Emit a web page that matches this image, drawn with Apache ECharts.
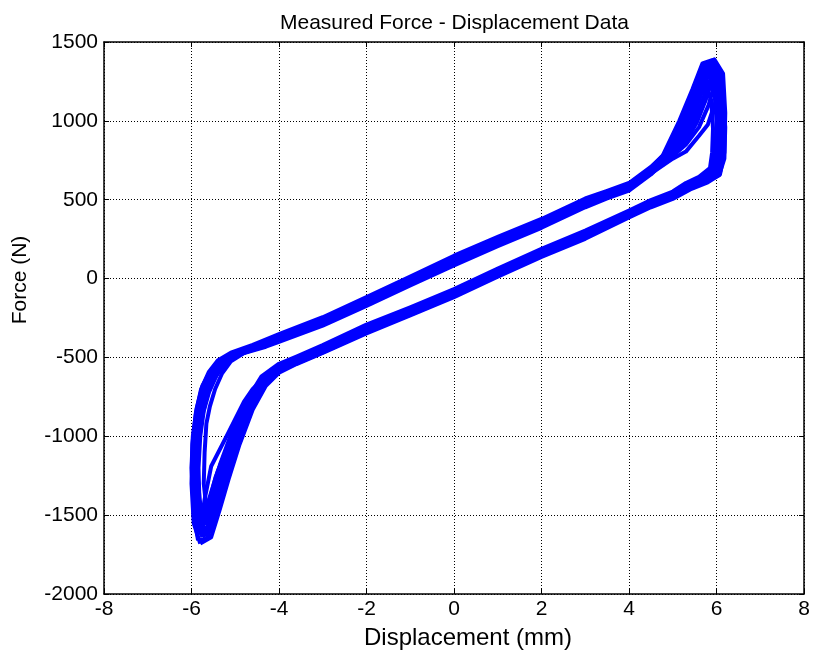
<!DOCTYPE html>
<html>
<head>
<meta charset="utf-8">
<script src="https://cdn.jsdelivr.net/npm/echarts@6/dist/echarts.min.js"></script>
<style>
html,body{margin:0;padding:0;background:#fff;}
#chart{width:814px;height:655px;}
</style>
</head>
<body>
<div id="chart"></div>
<script>
// Displacement (mm), Force (N) pairs, one loop per cycle
const cycle1 = [
[-5.8,-1680],[-5.95,-1550],[-6.0,-1300],[-5.98,-1050],[-5.9,-850],[-5.78,-700],[-5.6,-590],[-5.4,-520],[-5.1,-470],[-4.6,-420],[-4,-352],[-3,-245],[-2,-118],[-1,12],[0,145],[1,265],[2,378],[3,508],[3.5,556],[4,606],[4.5,708],[4.85,800],[5.15,960],[5.45,1160],[5.7,1340],[5.95,1390],[6.15,1300],[6.2,1050],[6.18,800],[6.08,660],
[5.8,610],[5.4,565],[5,505],[4.5,452],[4,388],[3,252],[2,138],[1,12],[0,-118],[-1,-233],[-2,-348],[-3,-472],[-3.6,-542],[-4,-597],[-4.3,-680],[-4.6,-830],[-4.9,-1050],[-5.15,-1270],[-5.35,-1460],[-5.55,-1640],[-5.8,-1680]
];
const cycle2 = [
[-5.65,-1480],[-5.72,-1300],[-5.7,-1100],[-5.66,-920],[-5.58,-810],[-5.46,-700],[-5.3,-600],[-5.1,-525],[-4.8,-472],[-4.3,-432],[-4,-402],[-3,-298],[-2,-174],[-1,-44],[0,84],[1,206],[2,322],[3,452],[3.5,508],[4,558],[4.5,660],[4.9,768],[5.2,880],[5.45,1030],[5.65,1170],[5.75,1220],[5.88,1130],[5.92,950],[5.9,800],[5.85,700],
[5.6,645],[5.3,606],[5,552],[4.5,498],[4,432],[3,304],[2,189],[1,64],[0,-66],[-1,-182],[-2,-292],[-3,-422],[-3.6,-494],[-4,-540],[-4.4,-620],[-4.8,-800],[-5.1,-990],[-5.35,-1180],[-5.5,-1330],[-5.6,-1450],[-5.65,-1480]
];
const cycle3 = [
[-5.78,-1560],[-5.9,-1450],[-5.95,-1250],[-5.92,-1050],[-5.85,-880],[-5.74,-740],[-5.58,-620],[-5.38,-535],[-5.1,-480],[-4.6,-430],[-4,-380],[-3,-275],[-2,-145],[-1,-20],[0,110],[1,230],[2,345],[3,475],[3.5,530],[4,580],[4.5,690],[4.9,810],[5.2,950],[5.5,1130],[5.75,1300],[5.88,1350],[6.02,1270],[6.08,1050],[6.06,850],[6.0,690],
[5.8,635],[5.4,590],[5,530],[4.5,478],[4,412],[3,280],[2,165],[1,40],[0,-90],[-1,-205],[-2,-315],[-3,-445],[-3.6,-515],[-4,-560],[-4.3,-620],[-4.6,-700],[-4.8,-780],[-5.2,-1000],[-5.55,-1190],[-5.7,-1400],[-5.78,-1560]
];
const cycle4 = [
[-5.7,-1600],[-5.85,-1480],[-5.9,-1280],[-5.88,-1080],[-5.8,-900],[-5.68,-760],[-5.5,-640],[-5.3,-555],[-5.0,-490],[-4.5,-440],[-4,-390],[-3,-285],[-2,-155],[-1,-30],[0,100],[1,220],[2,335],[3,465],[3.5,520],[4,570],[4.5,665],[5.0,760],[5.3,805],[5.6,905],[5.8,975],[5.95,1100],[6.08,1200],[6.15,1130],[6.2,960],[6.18,760],[6.06,655],
[5.8,620],[5.4,578],[5,520],[4.5,468],[4,400],[3,268],[2,152],[1,28],[0,-102],[-1,-218],[-2,-330],[-3,-458],[-3.6,-528],[-4,-578],[-4.3,-650],[-4.6,-790],[-4.95,-1030],[-5.2,-1240],[-5.4,-1420],[-5.58,-1570],[-5.7,-1600]
];
const cycle5 = [
[-5.75,-1640],[-5.93,-1520],[-6.0,-1200],[-5.97,-1000],[-5.88,-820],[-5.75,-680],[-5.55,-580],[-5.3,-510],[-5.0,-470],[-4.5,-415],[-4,-365],[-3,-260],[-2,-135],[-1,-8],[0,122],[1,242],[2,358],[3,488],[3.5,542],[4,592],[4.5,700],[4.77,780],[5.15,1000],[5.45,1200],[5.68,1365],[5.9,1385],[6.08,1280],[6.15,1000],[6.12,780],[6.03,670],
[5.8,628],[5.4,582],[5,525],[4.5,472],[4,406],[3,272],[2,158],[1,32],[0,-98],[-1,-214],[-2,-326],[-3,-452],[-3.6,-522],[-4,-572],[-4.3,-640],[-4.6,-770],[-4.9,-980],[-5.15,-1200],[-5.4,-1420],[-5.6,-1600],[-5.75,-1640]
];
const cycle6 = [
[-5.72,-1520],[-5.82,-1400],[-5.84,-1200],[-5.8,-1000],[-5.72,-840],[-5.6,-720],[-5.42,-610],[-5.2,-530],[-4.9,-480],[-4.4,-432],[-4,-385],[-3,-280],[-2,-150],[-1,-25],[0,105],[1,225],[2,340],[3,470],[3.5,525],[4,575],[4.5,678],[4.9,790],[5.2,920],[5.5,1090],[5.72,1250],[5.82,1290],[5.95,1200],[6.0,1000],[5.98,820],[5.92,690],
[5.7,638],[5.35,596],[5,538],[4.5,485],[4,418],[3,288],[2,172],[1,48],[0,-82],[-1,-198],[-2,-308],[-3,-438],[-3.6,-508],[-4,-552],[-4.35,-630],[-4.7,-780],[-5.0,-990],[-5.3,-1230],[-5.5,-1420],[-5.65,-1510],[-5.72,-1520]
];
const cycle7 = [
[-5.85,-1660],[-5.95,-1500],[-5.98,-1280],[-5.95,-1080],[-5.87,-900],[-5.76,-760],[-5.6,-640],[-5.38,-545],[-5.05,-478],[-4.55,-428],[-4,-372],[-3,-265],[-2,-140],[-1,-12],[0,128],[1,248],[2,362],[3,492],[3.5,545],[4,596],[4.5,698],[4.85,800],[5.2,980],[5.5,1180],[5.75,1330],[5.92,1360],[6.06,1300],[6.12,1100],[6.1,850],[6.04,680],
[5.8,622],[5.4,575],[5,515],[4.5,462],[4,396],[3,262],[2,146],[1,20],[0,-110],[-1,-226],[-2,-340],[-3,-465],[-3.6,-535],[-4,-588],[-4.3,-665],[-4.6,-810],[-4.9,-1020],[-5.2,-1280],[-5.45,-1500],[-5.65,-1650],[-5.85,-1660]
];
const cycle8 = [
[-5.68,-1560],[-5.8,-1450],[-5.86,-1250],[-5.84,-1060],[-5.76,-880],[-5.64,-740],[-5.48,-630],[-5.25,-545],[-4.95,-485],[-4.45,-437],[-4,-388],[-3,-282],[-2,-158],[-1,-32],[0,98],[1,218],[2,332],[3,462],[3.5,518],[4,568],[4.5,672],[4.9,780],[5.2,900],[5.5,1060],[5.7,1210],[5.8,1250],[5.95,1180],[6.05,1000],[6.04,800],[5.97,680],
[5.75,632],[5.35,592],[5,535],[4.5,482],[4,415],[3,285],[2,170],[1,45],[0,-85],[-1,-200],[-2,-312],[-3,-442],[-3.6,-512],[-4,-556],[-4.4,-640],[-4.75,-820],[-5.05,-1040],[-5.4,-1290],[-5.55,-1430],[-5.63,-1530],[-5.68,-1560]
];
const cycle9 = [
[-5.72,-1540],[-5.84,-1420],[-5.88,-1220],[-5.85,-1030],[-5.78,-870],[-5.66,-740],[-5.5,-630],[-5.28,-545],[-4.98,-482],[-4.5,-435],[-4,-384],[-3,-278],[-2,-150],[-1,-24],[0,106],[1,226],[2,340],[3,470],[3.5,526],[4,576],[4.5,672],[4.9,760],[5.2,850],[5.5,980],[5.72,1120],[5.9,1250],[6.05,1230],[6.12,1050],[6.12,840],[6.04,675],
[5.8,626],[5.4,583],[5,526],[4.5,474],[4,408],[3,276],[2,162],[1,36],[0,-94],[-1,-210],[-2,-322],[-3,-450],[-3.6,-520],[-4,-568],[-4.4,-640],[-4.8,-840],[-5.1,-1060],[-5.4,-1280],[-5.6,-1450],[-5.72,-1540]
];
const cycle10 = [
[-5.7,-1620],[-5.86,-1500],[-5.93,-1300],[-5.9,-1100],[-5.82,-920],[-5.7,-770],[-5.52,-650],[-5.3,-555],[-5.0,-485],[-4.5,-432],[-4,-378],[-3,-270],[-2,-142],[-1,-16],[0,115],[1,236],[2,352],[3,482],[3.5,536],[4,586],[4.5,680],[4.95,775],[5.25,880],[5.55,1040],[5.78,1200],[5.92,1300],[6.08,1250],[6.15,1000],[6.14,800],[6.06,668],
[5.8,620],[5.4,576],[5,518],[4.5,466],[4,400],[3,266],[2,150],[1,26],[0,-104],[-1,-220],[-2,-334],[-3,-460],[-3.6,-530],[-4,-582],[-4.3,-630],[-4.7,-820],[-5.05,-1080],[-5.35,-1330],[-5.55,-1500],[-5.65,-1600],[-5.7,-1620]
];
const cycle11 = [
[-5.75,-1580],[-5.9,-1460],[-5.96,-1240],[-5.93,-1040],[-5.85,-860],[-5.72,-720],[-5.55,-610],[-5.32,-530],[-5.02,-475],[-4.52,-425],[-4,-368],[-3,-262],[-2,-136],[-1,-10],[0,120],[1,240],[2,355],[3,485],[3.5,540],[4,590],[4.5,690],[4.9,790],[5.25,920],[5.5,1060],[5.7,1220],[5.85,1320],[5.97,1260],[6.02,1080],[6.0,860],[5.95,700],
[5.7,640],[5.35,598],[5,540],[4.5,486],[4,420],[3,290],[2,175],[1,50],[0,-80],[-1,-195],[-2,-305],[-3,-435],[-3.6,-505],[-4,-550],[-4.5,-700],[-4.9,-920],[-5.2,-1120],[-5.45,-1330],[-5.62,-1500],[-5.75,-1580]
];
const cycle12 = [
[-5.78,-1620],[-5.92,-1500],[-5.97,-1280],[-5.95,-1080],[-5.88,-900],[-5.77,-750],[-5.6,-630],[-5.36,-540],[-5.05,-478],[-4.55,-427],[-4,-374],[-3,-268],[-2,-142],[-1,-14],[0,116],[1,236],[2,350],[3,480],[3.5,534],[4,584],[4.5,685],[4.85,780],[5.1,880],[5.35,1000],[5.6,1180],[5.8,1330],[5.95,1370],[6.1,1280],[6.17,1050],[6.15,800],[6.06,662],
[5.8,616],[5.4,572],[5,512],[4.5,460],[4,394],[3,260],[2,144],[1,18],[0,-112],[-1,-228],[-2,-342],[-3,-468],[-3.6,-538],[-4,-590],[-4.35,-640],[-4.75,-880],[-5.1,-1150],[-5.4,-1380],[-5.6,-1560],[-5.78,-1620]
];
const cycle13 = [
[-5.72,-1560],[-5.86,-1440],[-5.9,-1240],[-5.87,-1050],[-5.8,-890],[-5.69,-750],[-5.52,-640],[-5.3,-550],[-5.0,-486],[-4.5,-436],[-4,-386],[-3,-280],[-2,-152],[-1,-26],[0,104],[1,224],[2,338],[3,468],[3.5,524],[4,574],[4.5,668],[4.95,765],[5.3,850],[5.6,960],[5.82,1100],[5.98,1260],[6.1,1220],[6.18,1000],[6.15,780],[6.05,662],
[5.8,624],[5.4,580],[5,522],[4.5,470],[4,404],[3,272],[2,156],[1,30],[0,-100],[-1,-216],[-2,-328],[-3,-455],[-3.6,-525],[-4,-574],[-4.35,-640],[-4.75,-810],[-5.15,-1050],[-5.45,-1260],[-5.62,-1440],[-5.72,-1560]
];
const cycle14 = [
[-5.7,-1520],[-5.83,-1410],[-5.87,-1210],[-5.84,-1020],[-5.77,-860],[-5.65,-730],[-5.48,-625],[-5.26,-545],[-4.96,-484],[-4.46,-434],[-4,-386],[-3,-280],[-2,-152],[-1,-26],[0,104],[1,224],[2,338],[3,468],[3.5,524],[4,574],[4.5,675],[4.95,770],[5.3,870],[5.55,990],[5.75,1130],[5.9,1280],[6.05,1260],[6.1,1050],[6.08,820],[6.0,680],
[5.75,630],[5.38,590],[5,532],[4.5,480],[4,414],[3,282],[2,168],[1,42],[0,-88],[-1,-203],[-2,-314],[-3,-444],[-3.6,-514],[-4,-560],[-4.4,-660],[-4.8,-850],[-5.1,-1030],[-5.4,-1220],[-5.6,-1400],[-5.7,-1520]
];
const cycles = [cycle1, cycle2, cycle3, cycle4, cycle5, cycle6, cycle7, cycle8, cycle9, cycle10, cycle11, cycle12, cycle13, cycle14];

const xTicks = {min: -8, max: 8, step: 2};
const yTicks = {min: -2000, max: 1500, step: 500};

const titleText = 'Measured Force - Displacement Data';
const xName = 'Displacement (mm)';
const yName = 'Force (N)';

const FONT = 'Liberation Sans, Arial, sans-serif';
const chart = echarts.init(document.getElementById('chart'));

const gridLine = {show: true, lineStyle: {color: '#000', type: [1, 2], width: 1}};
const tick = {show: true, inside: true, length: 5, lineStyle: {color: '#000'}};
const line = {show: true, onZero: false, lineStyle: {color: '#000', width: 1.5}};

chart.setOption({
  animation: false,
  backgroundColor: '#fff',
  title: {
    text: titleText, left: 280, top: 13, padding: 0,
    textStyle: {fontFamily: FONT, fontSize: 21, fontWeight: 'normal', color: '#000'}
  },
  graphic: [{
    type: 'text', x: 20, y: 280, rotation: Math.PI / 2,
    style: {text: yName, font: '21px ' + FONT, fill: '#000', align: 'center', verticalAlign: 'middle'}
  }],
  grid: {left: 104, right: 10, top: 42, bottom: 60},
  xAxis: [{
    type: 'value', min: xTicks.min, max: xTicks.max, interval: xTicks.step,
    name: xName, nameLocation: 'middle', nameGap: 32,
    nameTextStyle: {fontFamily: FONT, fontSize: 24, color: '#000', padding: [0, 0, 0, 28]},
    axisLine: line, axisTick: tick, splitLine: gridLine,
    axisLabel: {fontFamily: FONT, fontSize: 21, color: '#000', margin: 5}
  }, {
    type: 'value', position: 'top', min: xTicks.min, max: xTicks.max, interval: xTicks.step,
    axisLine: line, axisTick: tick, splitLine: {show: false}, axisLabel: {show: false}
  }],
  yAxis: [{
    type: 'value', min: yTicks.min, max: yTicks.max, interval: yTicks.step,
    axisLine: line, axisTick: tick, splitLine: gridLine,
    axisLabel: {fontFamily: FONT, fontSize: 21, color: '#000', margin: 6, formatter: v => String(v)}
  }, {
    type: 'value', position: 'right', min: yTicks.min, max: yTicks.max, interval: yTicks.step,
    axisLine: line, axisTick: tick, splitLine: {show: false}, axisLabel: {show: false}
  }],
  series: cycles.map((c, i) => ({
    type: 'line', name: 'cycle' + (i + 1), data: c,
    xAxisIndex: 0, yAxisIndex: 0,
    showSymbol: false, smooth: false,
    lineStyle: {color: '#0000ff', width: 4, join: 'round'}
  }))
});
</script>
</body>
</html>
